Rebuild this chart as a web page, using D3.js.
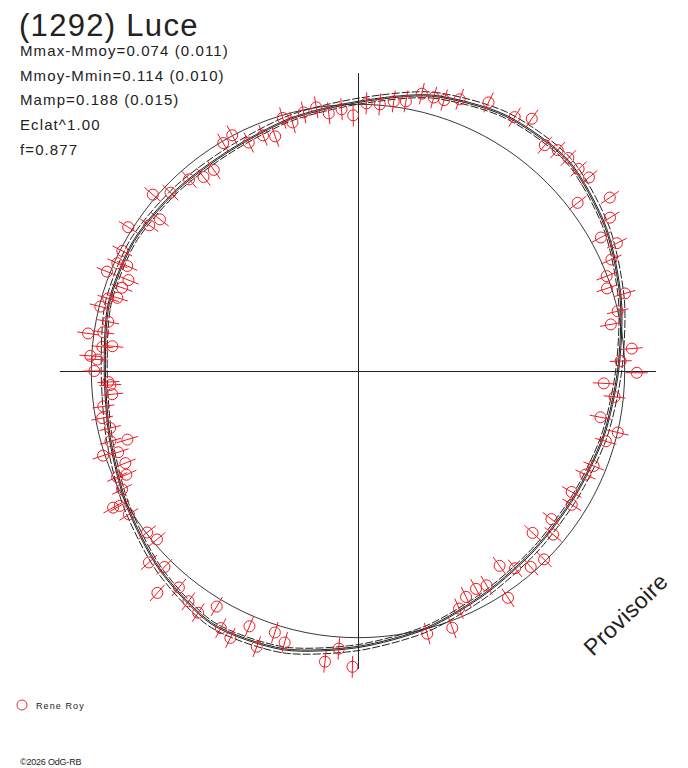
<!DOCTYPE html>
<html lang="fr">
<head>
  <meta charset="UTF-8">
  <title>(1292) Luce</title>
  <script src="https://cdn.jsdelivr.net/npm/d3@7"></script>
  <style>
    body { margin: 0; background: #fff; }
    svg { display: block; font-family: "Liberation Sans", Arial, sans-serif; }
    .txt { fill: #222; }
  </style>
</head>
<body>
  <svg width="688" height="768"></svg>
  <script>
    // En-tete
    const title = "(1292) Luce";
    const infoLines = [
      "Mmax-Mmoy=0.074 (0.011)",
      "Mmoy-Mmin=0.114 (0.010)",
      "Mamp=0.188 (0.015)",
      "Eclat^1.00",
      "f=0.877"
    ];
    const observer = "Rene Roy";

    // Courbe modele : phase (0-1) et magnitude relative a la moyenne
    const modelPhase = [0, 0.0417, 0.0833, 0.125, 0.1667, 0.2083, 0.25, 0.2917, 0.3333, 0.375, 0.4167, 0.4583,
                        0.5, 0.5417, 0.5833, 0.625, 0.6667, 0.7083, 0.75, 0.7917, 0.8333, 0.875, 0.9167, 0.9583];
    const modelMag = [-0.011, -0.069, -0.105, -0.113, -0.073, -0.022, 0.022, 0.044, 0.058, 0.055, 0.036, 0.000,
                      -0.036, -0.080, -0.094, -0.052, -0.004, 0.033, 0.047, 0.029, 0.025, 0.036, 0.040, 0.018];
    const modelSigma = 0.011;
    const magMoy = 0;
    const magMin = -0.114;

    // Mesures
    const ptPhase = [0.939,0.946,0.954,0.959,0.967,0.975,0.982,0.990,0.997,0.005,0.013,0.021,0.028,0.036,0.043,0.049,0.057,0.072,0.088,
                     0.096,0.110,0.117,0.124,0.132,0.139,0.154,0.146,0.163,0.170,0.177,0.184,0.192,0.199,0.205,
                     0.214,0.221,0.237,0.244,0.251,0.258,0.266,0.280,0.287,0.294,0.311,0.318,0.332,0.339,
                     0.354,0.361,0.369,0.376,0.385,0.393,0.400,0.407,0.414,0.421,0.429,0.436,0.444,0.459,
                     0.511,0.503,0.518,0.542,0.549,0.556,0.564,0.571,0.578,0.586,0.593,0.601,0.610,0.617,0.624,0.632,0.639,0.646,
                     0.661,0.668,0.669,0.676,0.683,0.684,0.690,0.698,0.699,0.706,0.704,0.714,
                     0.721,0.728,0.735,0.741,0.743,0.750,0.757,0.759,0.766,0.765,0.774,0.772,0.781,0.789,0.795,0.797,0.804,0.810,0.810,
                     0.817,0.818,0.825,0.839,0.847,0.854,0.863,0.871,0.885,0.893,0.901,0.915,0.922,0.929];
    const ptMag = [0.046,0.065,0.010,0.035,0.009,-0.001,0.027,0.016,0.040,-0.004,-0.003,-0.019,-0.026,-0.065,-0.062,-0.064,-0.085,-0.116,-0.115,
                   -0.144,-0.096,-0.113,-0.119,-0.118,-0.126,-0.142,-0.036,-0.103,-0.038,-0.080,-0.037,0.002,0.016,-0.041,
                   0.001,0.035,-0.029,0.014,-0.044,0.075,0.032,0.072,-0.001,0.033,0.046,0.061,0.077,0.053,
                   0.084,0.044,0.104,0.007,0.020,0.053,0.094,-0.019,0.061,0.069,0.059,0.031,-0.025,-0.018,
                   -0.042,-0.106,-0.094,-0.053,-0.028,-0.098,-0.039,-0.106,-0.090,-0.029,-0.084,-0.070,-0.052,-0.118,-0.032,-0.061,0.016,0.004,
                   -0.013,-0.026,-0.050,0.010,0.047,0.013,0.060,0.049,-0.007,0.034,0.095,0.045,
                   0.024,0.035,0.072,0.068,0.061,0.011,0.021,-0.005,0.072,0.036,0.033,-0.021,0.044,0.004,0.024,0.055,0.060,0.072,-0.012,
                   0.011,0.048,0.008,-0.016,0.044,0.063,-0.014,0.029,0.041,0.068,0.070,0.007,-0.002,0.049];
    const ptErr = 0.040;

    const svg = d3.select("svg");
    const cx = 358, cy = 371;
    const red = "#ee1a22";

    const angle = d3.scaleLinear().domain([0, 1]).range([0, 2 * Math.PI]);
    const radius = d3.scaleLinear().domain([0.97, 0]).range([0, 266.7]);

    const g = svg.append("g").attr("transform", `translate(${cx},${cy})`);

    // Axes
    const rAxis = radius(magMin);
    g.append("line").attr("x1", -rAxis).attr("x2", rAxis).attr("y1", 0).attr("y2", 0)
      .attr("stroke", "#222").attr("stroke-width", 1).attr("shape-rendering", "crispEdges");
    g.append("line").attr("x1", 0).attr("x2", 0).attr("y1", -rAxis).attr("y2", rAxis)
      .attr("stroke", "#222").attr("stroke-width", 1).attr("shape-rendering", "crispEdges");

    // Cercle de magnitude moyenne
    g.append("circle").attr("r", radius(magMoy))
      .attr("fill", "none").attr("stroke", "#222").attr("stroke-width", 0.9);

    // Modele et +/- sigma
    const model = modelPhase.map((p, i) => ({ p, m: modelMag[i] }));
    const radial = off => d3.lineRadial()
      .angle(d => angle(d.p))
      .radius(d => radius(d.m + off))
      .curve(d3.curveCardinalClosed.tension(0.2));

    [[-modelSigma, "8,2"], [0, null], [modelSigma * 0.4, null], [modelSigma, "8,2"]].forEach(([off, dash]) => {
      g.append("path")
        .attr("d", radial(off)(model))
        .attr("fill", "none")
        .attr("stroke", "#222")
        .attr("stroke-width", 1)
        .attr("stroke-dasharray", dash);
    });

    // Points de mesure
    const pts = ptPhase.map((p, i) => ({ p, m: ptMag[i] }));
    const pg = g.append("g").selectAll("g").data(pts).join("g");

    pg.append("line")
      .attr("x1", d => d3.pointRadial(angle(d.p), radius(d.m + ptErr))[0])
      .attr("y1", d => d3.pointRadial(angle(d.p), radius(d.m + ptErr))[1])
      .attr("x2", d => d3.pointRadial(angle(d.p), radius(d.m - ptErr))[0])
      .attr("y2", d => d3.pointRadial(angle(d.p), radius(d.m - ptErr))[1])
      .attr("stroke", red).attr("stroke-width", 1);

    pg.append("circle")
      .attr("cx", d => d3.pointRadial(angle(d.p), radius(d.m))[0])
      .attr("cy", d => d3.pointRadial(angle(d.p), radius(d.m))[1])
      .attr("r", 5.5)
      .attr("fill", "none").attr("stroke", red).attr("stroke-width", 1);

    // Textes
    svg.append("text").attr("class", "txt")
      .attr("x", 19).attr("y", 36)
      .attr("font-size", 31).attr("letter-spacing", 1.3)
      .text(title);

    svg.append("g").selectAll("text").data(infoLines).join("text")
      .attr("class", "txt")
      .attr("x", 20).attr("y", (d, i) => 56 + i * 24.7)
      .attr("font-size", 15).attr("letter-spacing", 1.1)
      .text(d => d);

    svg.append("text").attr("class", "txt")
      .attr("transform", "translate(593,657) rotate(-44)")
      .attr("font-size", 23).attr("letter-spacing", 0.4)
      .text("Provisoire");

    // Legende
    svg.append("circle").attr("cx", 22).attr("cy", 705).attr("r", 5)
      .attr("fill", "none").attr("stroke", "#d33").attr("stroke-width", 1);
    svg.append("text").attr("class", "txt")
      .attr("x", 36).attr("y", 709)
      .attr("font-size", 9).attr("letter-spacing", 1.1)
      .text(observer);

    svg.append("text").attr("class", "txt")
      .attr("x", 20).attr("y", 765)
      .attr("font-size", 9).attr("letter-spacing", -0.2)
      .text("©2026 OdG-RB");
  </script>
</body>
</html>
